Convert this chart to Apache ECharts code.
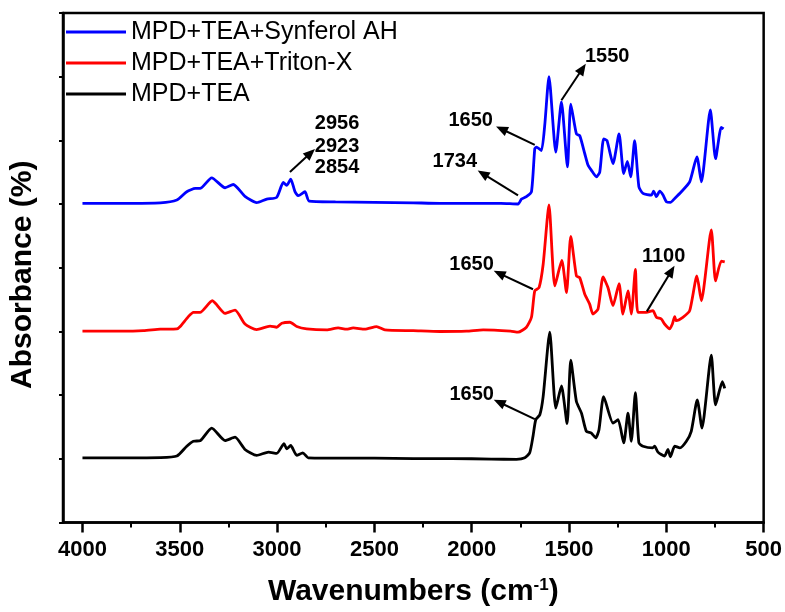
<!DOCTYPE html>
<html>
<head>
<meta charset="utf-8">
<script src="https://cdn.jsdelivr.net/npm/echarts@6/dist/echarts.min.js"></script>
<style>html,body{margin:0;padding:0;background:#fff}#main{width:785px;height:612px}</style>
</head>
<body>
<div id="main"></div>
<script>
// ---- data (wavenumber in cm-1, absorbance in arbitrary offset units) ----
const seriesNames = ['MPD+TEA+Synferol AH', 'MPD+TEA+Triton-X', 'MPD+TEA'];
const xTicks = [500, 1000, 1500, 2000, 2500, 3000, 3500, 4000];
const xMinorTicks = [750, 1250, 1750, 2250, 2750, 3250, 3750];

const wnBlue = [4000,3800,3600,3515,3464,3420,3396,3336,3267,3225,3165,3105,3053,3002,2968,2951,2930,2908,2891,2857,2835,2700,2500,2300,2164,2000,1850,1762,1744,1719,1693,1676,1667,1642,1625,1603,1568,1539,1508,1491,1462,1445,1419,1402,1385,1359,1342,1322,1305,1274,1243,1219,1200,1183,1163,1141,1120,1077,1065,1051,1034,1017,1000,979,957,923,880,843,820,774,747,718,706];
const absBlue = [5.012,5.012,5.019,5.063,5.194,5.245,5.245,5.412,5.256,5.307,5.121,5.023,5.079,5.105,5.339,5.292,5.390,5.194,5.131,5.194,5.047,5.035,5.027,5.019,5.012,5.012,5.012,5.001,5.079,5.116,5.194,5.868,5.894,5.841,6.230,6.999,5.816,6.604,5.583,6.568,6.101,6.075,5.790,5.608,5.530,5.427,5.505,6.023,5.997,5.634,6.101,5.479,5.670,5.427,5.997,5.272,5.167,5.141,5.203,5.116,5.203,5.141,5.038,5.027,5.089,5.194,5.349,5.739,5.349,6.479,5.712,6.205,6.179];

const wnRed = [4000,3800,3687,3600,3515,3498,3456,3430,3396,3333,3267,3216,3165,3105,3036,3002,2976,2934,2899,2848,2745,2686,2643,2609,2549,2489,2446,2300,2164,2027,1941,1800,1762,1719,1693,1676,1654,1633,1603,1573,1537,1513,1491,1462,1445,1419,1394,1377,1351,1325,1300,1274,1243,1223,1197,1180,1159,1146,1103,1069,1051,1026,1009,983,969,957,949,915,880,843,820,769,747,718,700];
const absRed = [3.004,3.004,3.012,3.035,3.040,3.077,3.233,3.300,3.300,3.482,3.284,3.335,3.117,3.030,3.082,3.066,3.128,3.144,3.077,3.040,3.024,3.055,3.035,3.055,3.035,3.077,3.024,3.012,2.999,3.004,3.024,3.004,2.988,3.066,3.222,3.637,3.689,4.051,4.985,3.715,4.114,3.611,4.493,3.871,3.844,3.584,3.429,3.273,3.351,3.855,3.689,3.404,3.751,3.273,3.637,3.273,3.974,3.300,3.300,3.326,3.222,3.195,3.117,3.040,3.117,3.233,3.170,3.222,3.326,3.871,3.482,4.596,3.793,4.104,4.093];

const wnBlack = [4000,3800,3600,3515,3464,3430,3396,3336,3267,3216,3165,3105,3044,3002,2964,2951,2930,2899,2868,2840,2700,2500,2300,2100,1900,1770,1727,1702,1685,1671,1650,1633,1599,1568,1539,1510,1491,1462,1436,1411,1385,1363,1346,1322,1274,1248,1219,1197,1180,1159,1141,1120,1070,1060,1043,1009,992,979,957,930,897,872,841,817,769,747,712,700];
const absBlack = [1.016,1.016,1.019,1.043,1.198,1.276,1.284,1.483,1.287,1.339,1.147,1.054,1.105,1.085,1.240,1.156,1.209,1.054,1.094,1.016,1.012,1.012,1.004,1.004,0.996,0.991,1.016,1.094,1.354,1.614,1.692,1.977,2.988,1.795,2.143,1.552,2.548,1.899,1.717,1.432,1.405,1.328,1.458,1.977,1.561,1.614,1.250,1.717,1.276,2.039,1.250,1.198,1.172,1.198,1.105,1.043,1.147,1.032,1.198,1.172,1.276,1.432,1.925,1.483,2.626,1.847,2.210,2.106];

// annotations: label, arrow tail [wn, abs], arrow head [wn, abs], label anchor [wn, abs]
const arrowTexts = ['1734', '1650', '1550', '1650', '1100', '1650'];
const arrowTails = [[1762,5.136],[1676,5.930],[1539,6.630],[1685,3.662],[1100,3.315],[1676,1.623]];
const arrowHeads = [[1943,5.479],[1847,6.179],[1431,7.124],[1859,3.911],[974,3.949],[1859,1.888]];
const arrowLabelAt = [[2087,5.665],[2005,6.319],[1304,7.323],[2001,4.051],[1014,4.179],[2000,2.016]];
const chTexts = ['2956', '2923', '2854'];
const chLabelAt = [[2806,6.272],[2806,5.907],[2806,5.580]];
const chTail = [2934,5.505];
const chHead = [2828,5.801];

// ---- build ----
const zip = (a, b) => a.map((v, i) => [v, b[i]]);
const FONT = '"Liberation Sans", Arial, sans-serif';

const markLineData = arrowTails.map((t, i) => [{coord: t}, {coord: arrowHeads[i]}]);
markLineData.push([{coord: chTail}, {coord: chHead}]);

const markPointData = arrowTexts.map((t, i) => ({
  coord: arrowLabelAt[i], value: t,
  label: {position: 'inside'}
})).concat(chTexts.map((t, i) => ({
  coord: chLabelAt[i], value: t,
  label: {position: 'right', distance: 0}
})));

const chart = echarts.init(document.getElementById('main'), null, {renderer: 'canvas'});
const lineCommon = {type: 'line', showSymbol: false, symbol: 'none', smooth: 0.2};
const option = {
  animation: false,
  backgroundColor: '#fff',
  textStyle: {fontFamily: FONT, color: '#000'},
  grid: {left: 63, right: 21, top: 13, bottom: 85, show: true, borderColor: '#000', borderWidth: 2.5, backgroundColor: 'transparent'},
  legend: {
    orient: 'vertical', left: 66, top: 18, padding: 0, itemGap: 3,
    itemWidth: 60, itemHeight: 3, icon: 'rect',
    data: seriesNames,
    textStyle: {fontSize: 25, lineHeight: 28, color: '#000', fontFamily: FONT}
  },
  xAxis: [{
    type: 'value', min: 500, max: 4100, inverse: true, interval: 500,
    axisLine: {lineStyle: {color: '#000', width: 2.5}},
    axisTick: {show: true, inside: false, length: 10, lineStyle: {width: 2.5, color: '#000'}, customValues: xTicks},
    axisLabel: {fontSize: 22, fontWeight: 'bold', color: '#000', margin: 16, customValues: xTicks, fontFamily: FONT,
      formatter: v => String(v)},
    splitLine: {show: false},
    name: 'Wavenumbers (cm{sup|-1})', nameLocation: 'middle', nameGap: 54,
    nameTextStyle: {fontSize: 30, fontWeight: 'bold', color: '#000', fontFamily: FONT,
      rich: {sup: {fontSize: 17, fontWeight: 'bold', color: '#000', verticalAlign: 'top', padding: [0, 0, 14, 0], fontFamily: FONT}}}
  }, {
    type: 'value', min: 500, max: 4100, inverse: true, position: 'bottom',
    axisLine: {show: false},
    axisTick: {show: true, inside: false, length: 5, lineStyle: {width: 2, color: '#000'}, customValues: xMinorTicks},
    axisLabel: {show: false},
    splitLine: {show: false}
  }],
  yAxis: {
    type: 'value', min: 0, max: 8, interval: 1,
    axisLine: {show: true, lineStyle: {color: '#000', width: 2.5}},
    axisTick: {show: true, inside: false, length: 4, lineStyle: {width: 2, color: '#000'}},
    axisLabel: {show: false},
    splitLine: {show: false},
    name: 'Absorbance (%)', nameLocation: 'middle', nameGap: 25,
    nameTextStyle: {fontSize: 30, fontWeight: 'bold', color: '#000', fontFamily: FONT, padding: [0, 14, 0, 0]}
  },
  series: [
    Object.assign({name: seriesNames[0], data: zip(wnBlue, absBlue),
     color: '#0000ff', lineStyle: {color: '#0000ff', width: 2.8}}, lineCommon),
    Object.assign({name: seriesNames[1], data: zip(wnRed, absRed),
     color: '#ff0000', lineStyle: {color: '#ff0000', width: 2.8}}, lineCommon),
    Object.assign({name: seriesNames[2], data: zip(wnBlack, absBlack),
     color: '#000000', lineStyle: {color: '#000000', width: 2.8},
     markLine: {
       silent: true, symbol: ['none', 'triangle'], symbolSize: [10, 12],
       lineStyle: {color: '#000', width: 2, type: 'solid'},
       label: {show: false},
       data: markLineData
     },
     markPoint: {
       silent: true, symbol: 'circle', symbolSize: 0,
       itemStyle: {color: 'transparent'},
       label: {show: true, formatter: '{c}', fontSize: 20, fontWeight: 'bold', color: '#000', fontFamily: FONT},
       data: markPointData
     }}, lineCommon)
  ]
};
chart.setOption(option);
</script>
</body>
</html>
